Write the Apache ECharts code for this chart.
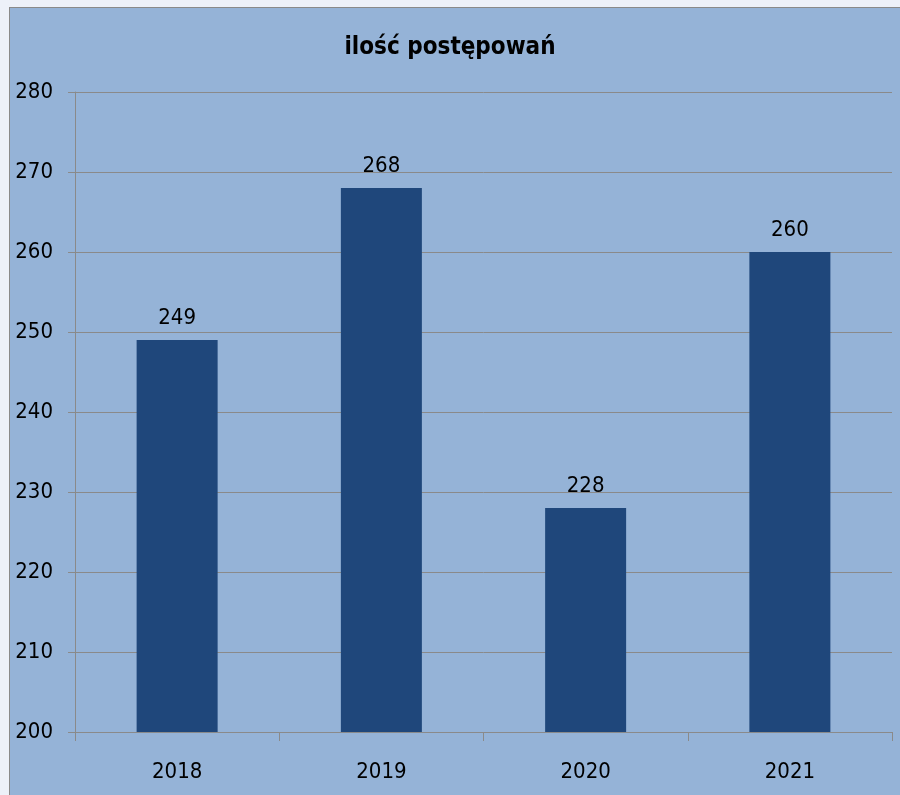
<!DOCTYPE html>
<html>
<head>
<meta charset="utf-8">
<script src="https://cdn.jsdelivr.net/npm/echarts@6/dist/echarts.min.js"></script>
<style>
  html, body { margin: 0; padding: 0; background: #edf1f9; }
  #frame {
    position: absolute; left: 9px; top: 7px; width: 891px; height: 788px;
    background: #95b3d7; border-left: 1px solid #8a8a8a; border-top: 1px solid #8a8a8a;
  }
  #main { position: absolute; left: 0; top: 0; width: 900px; height: 795px; }
</style>
</head>
<body>
<div id="frame"></div>
<div id="main"></div>
<script>
// dane
var years = ['2018', '2019', '2020', '2021'];
var counts = [249, 268, 228, 260];
var titleText = 'ilość postępowań';

var font = '"DejaVu Sans Condensed", sans-serif';
var gray = '#8a8a8a';

var chart = echarts.init(document.getElementById('main'));
chart.setOption({
  backgroundColor: 'transparent',
  animation: false,
  title: {
    text: titleText,
    left: 'center',
    top: 31,
    textStyle: { fontFamily: font, fontSize: 24, fontWeight: 'bold', color: '#000' }
  },
  grid: { left: 75, right: 8, top: 92, bottom: 63 },
  xAxis: {
    type: 'category',
    data: years,
    axisLine: { lineStyle: { color: gray, width: 1 } },
    axisTick: { show: true, length: 9, lineStyle: { color: gray } },
    axisLabel: { margin: 29, fontFamily: font, fontSize: 22, color: '#000' }
  },
  yAxis: {
    type: 'value',
    min: 200,
    max: 280,
    interval: 10,
    axisLine: { show: true, lineStyle: { color: gray, width: 1 } },
    axisTick: { show: true, length: 7, lineStyle: { color: gray } },
    splitLine: { lineStyle: { color: gray, width: 1 } },
    axisLabel: { margin: 22, fontFamily: font, fontSize: 22, color: '#000' }
  },
  series: [{
    type: 'bar',
    data: counts,
    barWidth: 81,
    itemStyle: { color: '#1f477b' },
    label: {
      show: true,
      position: 'top',
      distance: 11,
      fontFamily: font,
      fontSize: 22,
      color: '#000'
    }
  }]
});
</script>
</body>
</html>
